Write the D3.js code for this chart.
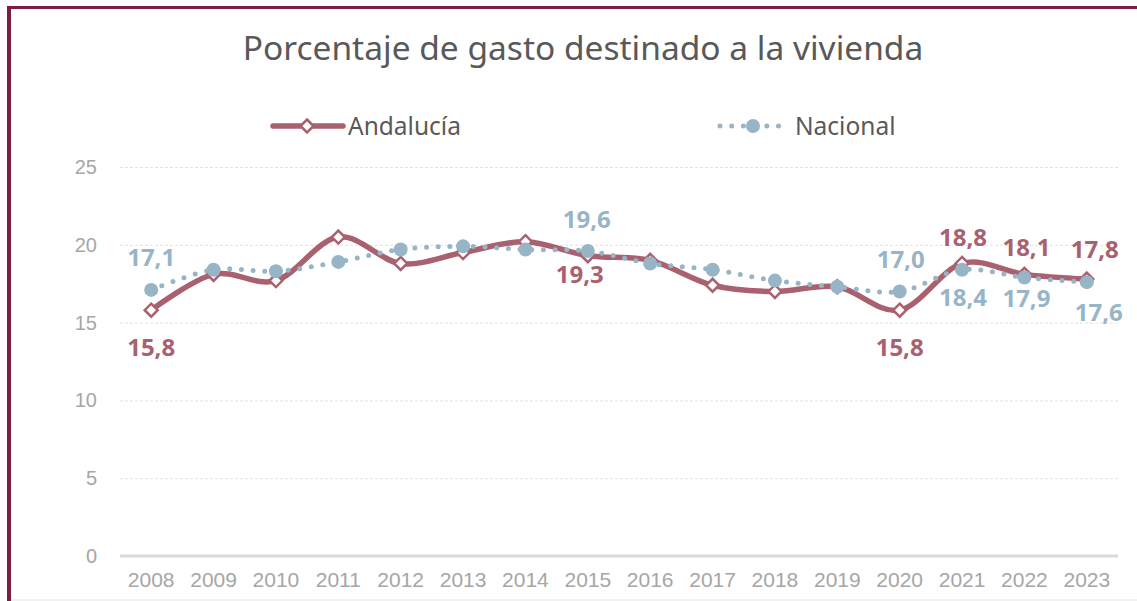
<!DOCTYPE html>
<html>
<head>
<meta charset="utf-8">
<script src="https://cdn.jsdelivr.net/npm/d3@7"></script>
<style>
  html, body { margin: 0; padding: 0; background: #ffffff; }
  svg { display: block; }
</style>
</head>
<body>
<svg id="chart" width="1137" height="601"></svg>
<script>
// ---- data ----
const years = [2008, 2009, 2010, 2011, 2012, 2013, 2014, 2015, 2016, 2017, 2018, 2019, 2020, 2021, 2022, 2023];
const andalucia = [15.8, 18.1, 17.7, 20.5, 18.8, 19.5, 20.2, 19.3, 19.0, 17.4, 17.0, 17.3, 15.8, 18.8, 18.1, 17.8];
const nacional  = [17.1, 18.4, 18.3, 18.9, 19.7, 19.9, 19.7, 19.6, 18.8, 18.4, 17.7, 17.3, 17.0, 18.4, 17.9, 17.6];
const yTicks = [0, 5, 10, 15, 20, 25];
const seriesNames = ["Andalucía", "Nacional"];
const andaluciaLabelYears = [2008, 2015, 2020, 2021, 2022, 2023];
const nacionalLabelYears  = [2008, 2015, 2020, 2021, 2022, 2023];
const titleText = "Porcentaje de gasto destinado a la vivienda";

// ---- styling / layout ----
const W = 1137, H = 601;
const colA = "#a9616f";
const colN = "#97b5c7";
const frameCol = "#7b1d45";
const axisText = "#a6a6a6";

const svg = d3.select("#chart");

const x = d3.scaleBand().domain(years).range([120, 1118]);
const xc = d => x(d) + x.bandwidth() / 2;
const y = d3.scaleLinear().domain([0, 25]).range([556, 167]);

// frame
svg.append("rect").attr("x", 0).attr("y", 0).attr("width", W).attr("height", H).attr("fill", "#fff");
svg.append("line").attr("x1", 11).attr("x2", W).attr("y1", 600).attr("y2", 600)
  .attr("stroke", "#ececec").attr("stroke-width", 1.5);
svg.append("line").attr("x1", 7).attr("x2", W).attr("y1", 7.5).attr("y2", 7.5)
  .attr("stroke", frameCol).attr("stroke-width", 3);
svg.append("line").attr("x1", 9).attr("x2", 9).attr("y1", 6).attr("y2", H)
  .attr("stroke", frameCol).attr("stroke-width", 4);

// title
svg.append("text")
  .attr("x", 583).attr("y", 60)
  .attr("text-anchor", "middle")
  .attr("font-family", "'Noto Sans', sans-serif")
  .attr("font-size", 33.5)
  .attr("fill", "#595959")
  .text(titleText);

// grid lines
svg.append("g").selectAll("line")
  .data(yTicks.filter(t => t > 0))
  .join("line")
  .attr("x1", 120).attr("x2", 1118)
  .attr("y1", d => y(d) + 0.5).attr("y2", d => y(d) + 0.5)
  .attr("stroke", "#e2e2e2").attr("stroke-width", 1)
  .attr("stroke-dasharray", "3 2");

// y axis
const yAxis = svg.append("g")
  .attr("transform", "translate(97,0)")
  .call(d3.axisLeft(y).tickValues(yTicks).tickSize(0).tickPadding(0));
yAxis.select(".domain").remove();
yAxis.selectAll("text")
  .attr("font-family", "'Liberation Sans', Arial, sans-serif")
  .attr("font-size", 20)
  .attr("fill", axisText);

// x axis
svg.append("line")
  .attr("x1", 120).attr("x2", 1118).attr("y1", 556).attr("y2", 556)
  .attr("stroke", "#d9d9d9").attr("stroke-width", 3);
const xAxis = svg.append("g")
  .attr("transform", "translate(0,572)")
  .call(d3.axisBottom(x).tickSize(0).tickPadding(0));
xAxis.select(".domain").remove();
xAxis.selectAll("text")
  .attr("dy", "0.71em")
  .attr("font-family", "'Liberation Sans', Arial, sans-serif")
  .attr("font-size", 21)
  .attr("fill", axisText);

// line generator (smoothed)
const line = d3.line()
  .x(d => xc(d.year))
  .y(d => y(d.value))
  .curve(d3.curveCardinal.tension(0));

const dataA = years.map((yr, i) => ({ year: yr, value: andalucia[i] }));
const dataN = years.map((yr, i) => ({ year: yr, value: nacional[i] }));

const diamond = h => `M0,${-h}L${h},0L0,${h}L${-h},0Z`;

// Andalucía series
svg.append("path")
  .datum(dataA)
  .attr("d", line)
  .attr("fill", "none")
  .attr("stroke", colA)
  .attr("stroke-width", 5.5)
  .attr("stroke-linejoin", "round")
  .attr("stroke-linecap", "round");
svg.append("g").selectAll("path")
  .data(dataA)
  .join("path")
  .attr("transform", d => `translate(${xc(d.year)},${y(d.value)})`)
  .attr("d", diamond(6.5))
  .attr("fill", "#fff")
  .attr("stroke", colA)
  .attr("stroke-width", 2.5);

// Nacional series
svg.append("path")
  .datum(dataN)
  .attr("d", line)
  .attr("fill", "none")
  .attr("stroke", colN)
  .attr("stroke-width", 5)
  .attr("stroke-linecap", "round")
  .attr("stroke-dasharray", "0 11.7");
svg.append("g").selectAll("circle")
  .data(dataN)
  .join("circle")
  .attr("cx", d => xc(d.year))
  .attr("cy", d => y(d.value))
  .attr("r", 7)
  .attr("fill", colN);

// data labels (offsets relative to each marker)
const fmt = v => d3.format(".1f")(v).replace(".", ",");
const offsetsA = { 2008: [0, 37], 2015: [-8, 19], 2020: [0, 37], 2021: [1, -26], 2022: [2, -27], 2023: [8, -30] };
const offsetsN = { 2008: [0, -33], 2015: [-1, -32], 2020: [1, -32], 2021: [1, 28], 2022: [2, 21], 2023: [12, 30] };

function addLabels(data, labelYears, offsets, color) {
  svg.append("g").selectAll("text")
    .data(data.filter(d => labelYears.includes(d.year)))
    .join("text")
    .attr("x", d => xc(d.year) + offsets[d.year][0])
    .attr("y", d => y(d.value) + offsets[d.year][1])
    .attr("dy", "0.36em")
    .attr("text-anchor", "middle")
    .attr("font-family", "'Open Sans', sans-serif")
    .attr("font-weight", 700)
    .attr("font-size", 24)
    .attr("fill", color)
    .text(d => fmt(d.value));
}
addLabels(dataA, andaluciaLabelYears, offsetsA, colA);
addLabels(dataN, nacionalLabelYears, offsetsN, colN);

// legend
const legend = svg.append("g").attr("font-family", "'Noto Sans', sans-serif").attr("font-size", 24.5).attr("fill", "#595959");
const lgA = legend.append("g").attr("transform", "translate(271,126)");
lgA.append("line").attr("x1", 2).attr("x2", 72).attr("y1", 0).attr("y2", 0)
  .attr("stroke", colA).attr("stroke-width", 5.5).attr("stroke-linecap", "round");
lgA.append("path").attr("transform", "translate(36,0)").attr("d", diamond(6.5))
  .attr("fill", "#fff").attr("stroke", colA).attr("stroke-width", 2.5);
lgA.append("text").attr("x", 77).attr("dy", "0.35em").text(seriesNames[0]);

const lgN = legend.append("g").attr("transform", "translate(718,126)");
lgN.append("line").attr("x1", 2).attr("x2", 72).attr("y1", 0).attr("y2", 0)
  .attr("stroke", colN).attr("stroke-width", 5).attr("stroke-linecap", "round")
  .attr("stroke-dasharray", "0 11.7");
lgN.append("circle").attr("cx", 35).attr("cy", 0).attr("r", 7).attr("fill", colN);
lgN.append("text").attr("x", 77).attr("dy", "0.35em").text(seriesNames[1]);
</script>
</body>
</html>
